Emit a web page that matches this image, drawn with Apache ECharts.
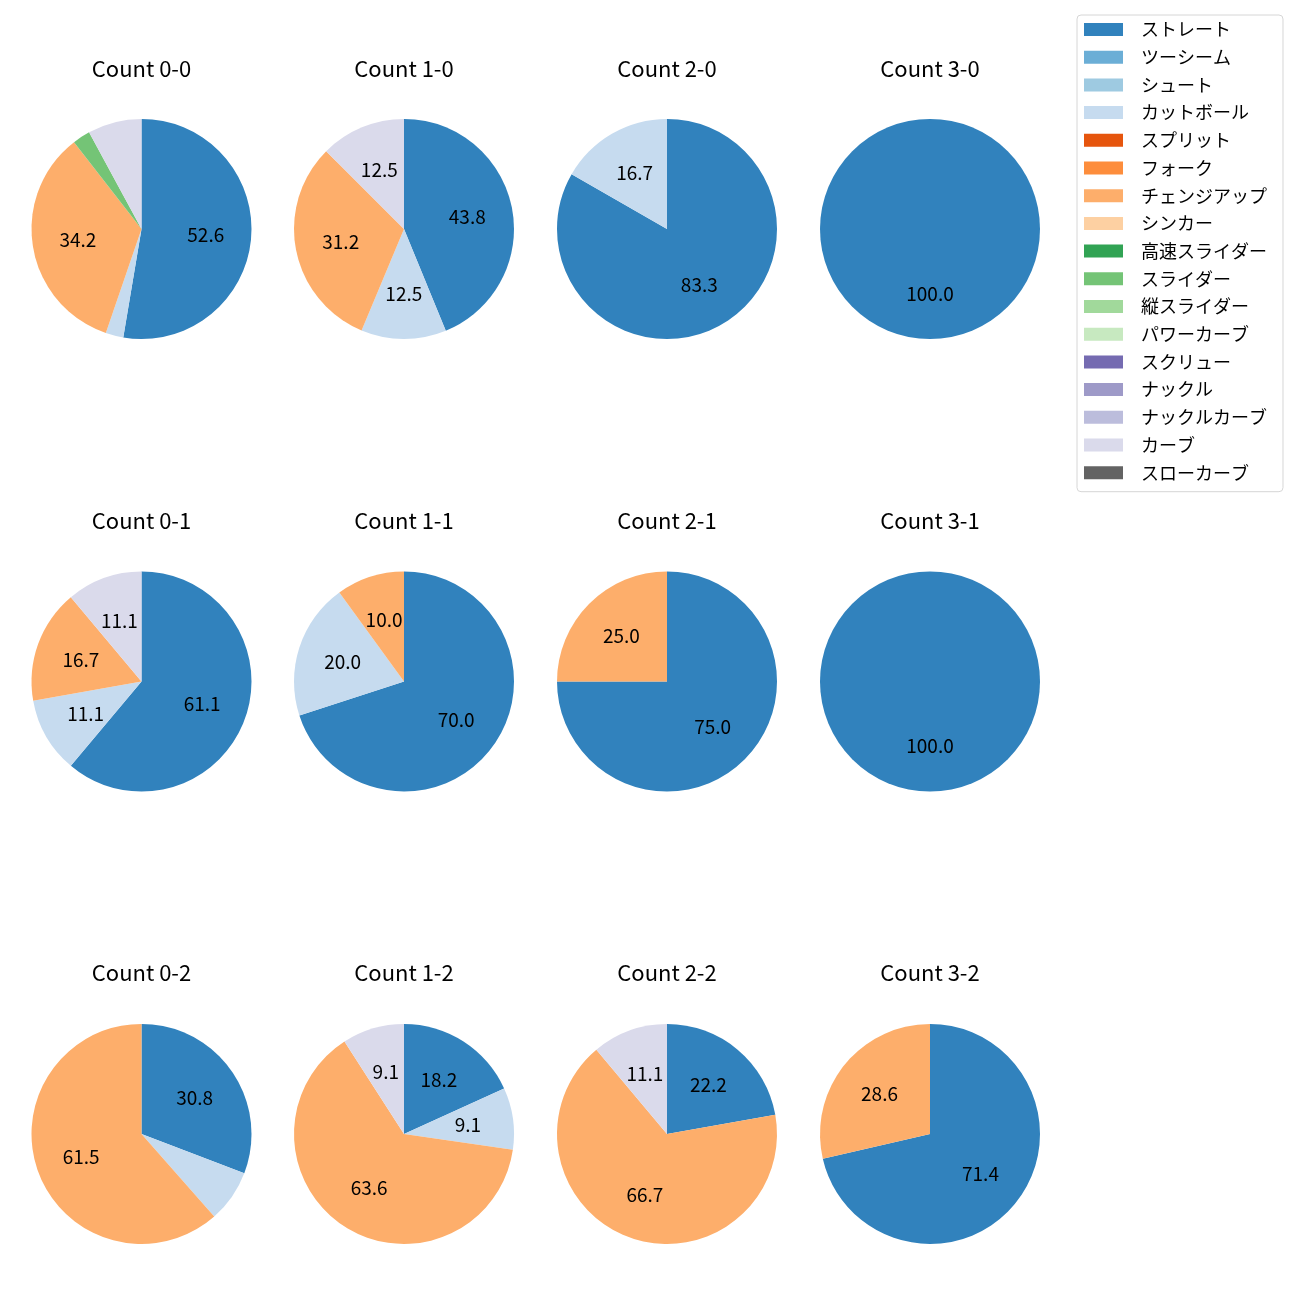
<!DOCTYPE html>
<html>
<head>
<meta charset="utf-8">
<script src="https://cdn.jsdelivr.net/npm/echarts@6/dist/echarts.min.js"></script>
<style>html,body{margin:0;padding:0;background:#fff}#c{width:1300px;height:1300px}</style>
</head>
<body>
<div id="c"></div>
<script>
const categories = ['ストレート','ツーシーム','シュート','カットボール','スプリット','フォーク','チェンジアップ','シンカー','高速スライダー','スライダー','縦スライダー','パワーカーブ','スクリュー','ナックル','ナックルカーブ','カーブ','スローカーブ'];
const colors = ['#3182bd','#6baed6','#9ecae1','#c6dbef','#e6550d','#fd8d3c','#fdae6b','#fdd0a2','#31a354','#74c476','#a1d99b','#c7e9c0','#756bb1','#9e9ac8','#bcbddc','#dadaeb','#636363'];
const panels = ['Count 0-0','Count 1-0','Count 2-0','Count 3-0','Count 0-1','Count 1-1','Count 2-1','Count 3-1','Count 0-2','Count 1-2','Count 2-2','Count 3-2'];
// percentages per panel (same order as panels)
const straight = [52.6, 43.8, 83.3, 100, 61.1, 70.0, 75.0, 100, 30.8, 18.2, 22.2, 71.4];
const cutter   = [2.6, 12.5, 16.7, 0, 11.1, 20.0, 0, 0, 7.7, 9.1, 0, 0];
const changeup = [34.2, 31.2, 0, 0, 16.7, 10.0, 25.0, 0, 61.5, 63.6, 66.7, 28.6];
const slider   = [2.6, 0, 0, 0, 0, 0, 0, 0, 0, 0, 0, 0];
const curve    = [7.9, 12.5, 0, 0, 11.1, 0, 0, 0, 0, 9.1, 11.1, 0];
const labelMin = 8;

const FONT = "'Noto Sans CJK JP', 'Noto Sans', sans-serif";
const colX = [141.5, 404, 667, 930];
const rowY = [229, 681.5, 1134];
const titleY = [69, 521, 973];
const R = 110;

function valuesFor(i) {
  const m = {'ストレート': straight[i], 'カットボール': cutter[i], 'チェンジアップ': changeup[i], 'スライダー': slider[i], 'カーブ': curve[i]};
  return categories.map((c, k) => ({name: c, value: m[c] || 0, itemStyle: {color: colors[k]}}));
}

const series = [];
const titles = [];
panels.forEach((p, i) => {
  const cx = colX[i % 4], cy = rowY[Math.floor(i / 4)];
  titles.push({text: p, left: colX[i % 4], top: titleY[Math.floor(i / 4)] - 11, textAlign: 'center', padding: 0,
    textStyle: {fontFamily: FONT, fontSize: 22, fontWeight: 'normal', color: '#000'}});
  series.push({type: 'pie', center: [cx, cy], radius: [0, R], startAngle: 90, clockwise: true,
    silent: true, animation: false, label: {show: false}, labelLine: {show: false},
    itemStyle: {borderWidth: 0}, data: valuesFor(i)});
});
panels.forEach((p, i) => {
  const cx = colX[i % 4], cy = rowY[Math.floor(i / 4)];
  series.push({type: 'pie', center: [cx, cy], radius: [13, R], startAngle: 90, clockwise: true,
    silent: true, animation: false, labelLine: {show: false},
    itemStyle: {color: 'rgba(0,0,0,0)', borderWidth: 0},
    label: {show: true, position: 'inside', color: '#000', fontFamily: FONT, fontSize: 19,
      formatter: prm => prm.value >= labelMin ? prm.value.toFixed(1) : ''},
    data: valuesFor(i).map(d => ({name: d.name, value: d.value, itemStyle: {color: 'rgba(0,0,0,0)'}}))});
});

const chart = echarts.init(document.getElementById('c'), null, {renderer: 'canvas'});
chart.setOption({
  animation: false,
  title: titles,
  legend: {
    orient: 'vertical', left: 1077, top: 15, selectedMode: false,
    data: categories, icon: 'rect', itemWidth: 39, itemHeight: 13, itemGap: 9.7,
    padding: [5.5, 16, 10, 7], borderColor: '#d6d6d6', borderWidth: 1, borderRadius: 4,
    textStyle: {fontFamily: FONT, fontSize: 18, color: '#000', padding: [0, 0, 0, 13]}
  },
  series: series
});
</script>
</body>
</html>
